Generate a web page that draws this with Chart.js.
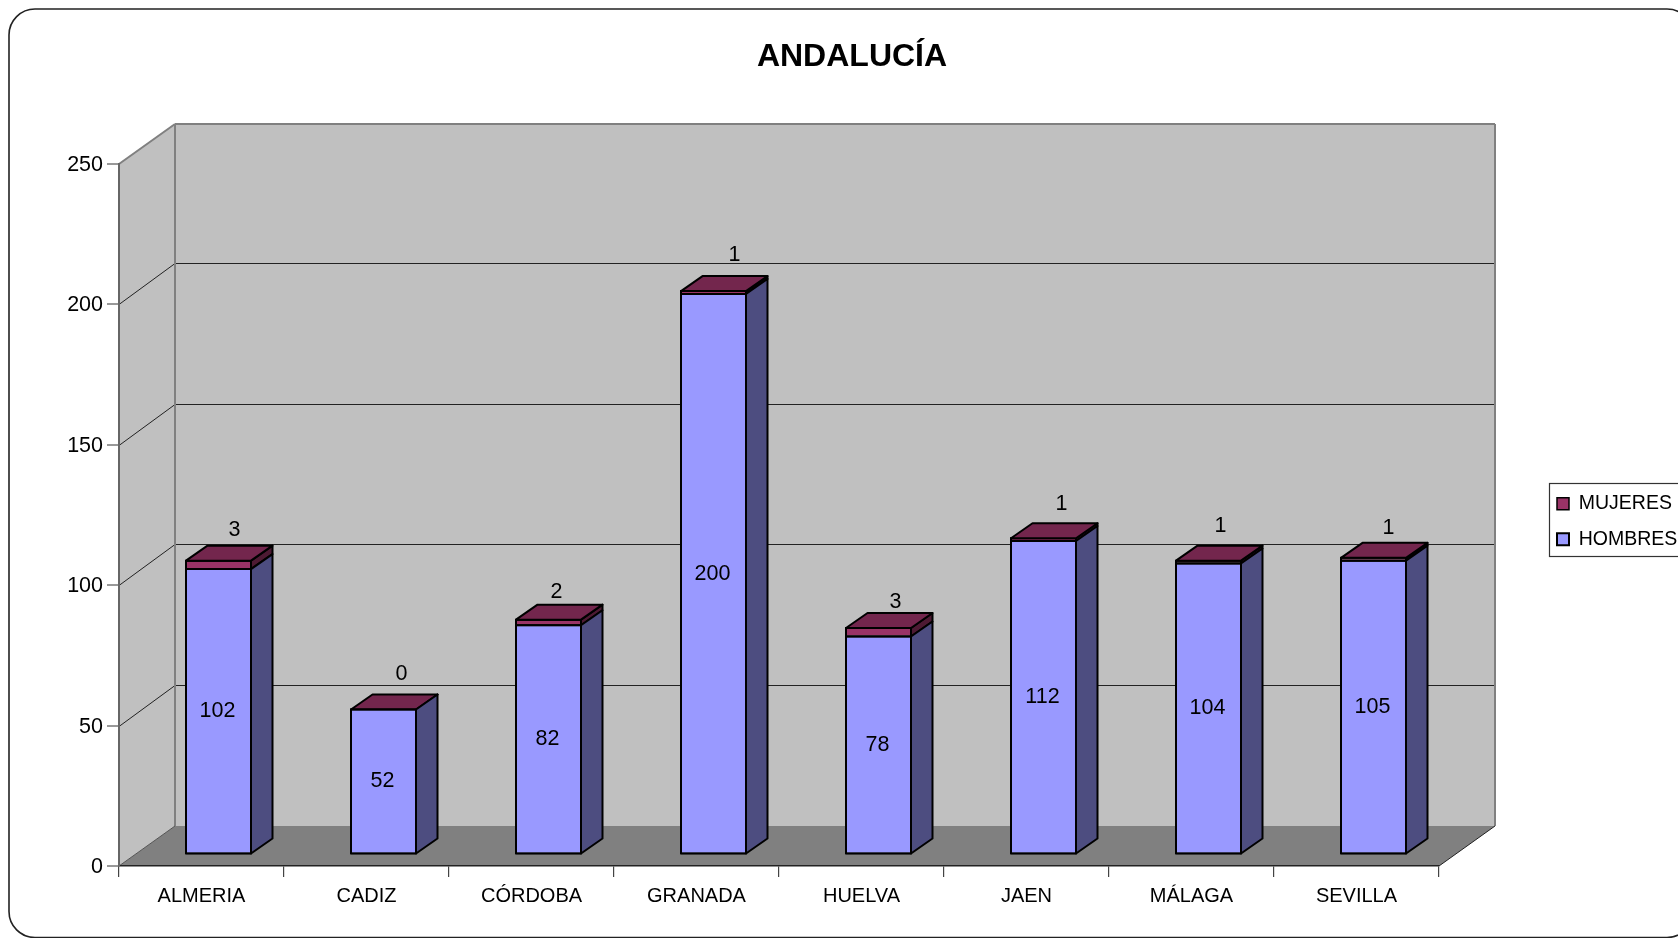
<!DOCTYPE html>
<html><head><meta charset="utf-8">
<style>html,body{margin:0;padding:0;background:#fff;overflow:hidden}canvas{display:block}</style>
<script src="https://cdn.jsdelivr.net/npm/chart.js@4/dist/chart.umd.min.js"></script>
</head><body>
<div style="width:1678px;height:938px"><canvas id="c" width="1678" height="938"></canvas></div>
<script>
const categories = ['ALMERIA','CADIZ','CÓRDOBA','GRANADA','HUELVA','JAEN','MÁLAGA','SEVILLA'];
const hombres = [102,52,82,200,78,112,104,105];
const mujeres = [3,0,2,1,3,1,1,1];
const yTicks = [0,50,100,150,200,250];
const seriesNames = ['HOMBRES','MUJERES'];
const chartTitle = 'ANDALUCÍA';
const mujeresLabelNudgeX = [-2,0,-10,3,-1,0,-6,-3];
const mujeresLabelNudgeY = [2,2,7,0,7,1,1,6];

const FONT = '"Liberation Sans", Arial, sans-serif';
const WALL = {dx:56, dy:-40};
const BAR_FRONT = {dx:17, dy:-11.5};
const BAR_DEPTH = {dx:21.5, dy:-15};
const SIDE = ['#4d4d80','#4d1a33'];
const TOP = '#73264d';
const BW = 2;

function poly(ctx, pts, fill, stroke, lw){
  ctx.beginPath();
  pts.forEach((p,i)=> i ? ctx.lineTo(p[0],p[1]) : ctx.moveTo(p[0],p[1]));
  ctx.closePath();
  if(fill){ctx.fillStyle=fill;ctx.fill();}
  if(stroke){ctx.strokeStyle=stroke;ctx.lineWidth=lw;ctx.lineJoin='round';ctx.stroke();}
}
function seg(ctx,x1,y1,x2,y2,color,lw){
  ctx.beginPath();ctx.moveTo(x1,y1);ctx.lineTo(x2,y2);ctx.strokeStyle=color;ctx.lineWidth=lw;ctx.stroke();
}

const plot3d = {
  id:'plot3d',
  afterLayout(chart){
    const t = chart.titleBlock; t.left = 752; t.right = 952;
    const l = chart.legend; l.left = 1541; l.top = 478; l.right = 1800; l.bottom = 620;
  },
  beforeDraw(chart){
    const ctx = chart.ctx, a = chart.chartArea, y = chart.scales.y;
    const {left,right,top,bottom} = a, dx = WALL.dx, dy = WALL.dy;
    ctx.save();
    ctx.fillStyle='#fff';ctx.fillRect(0,0,chart.width,chart.height);
    ctx.beginPath();ctx.roundRect(9,9,1684,928.5,26);ctx.strokeStyle='#222';ctx.lineWidth=1.6;ctx.stroke();
    poly(ctx,[[left+dx,top+dy],[right+dx,top+dy],[right+dx,bottom+dy],[left+dx,bottom+dy]],'#c0c0c0');
    poly(ctx,[[left,top],[left+dx,top+dy],[left+dx,bottom+dy],[left,bottom]],'#c0c0c0');
    poly(ctx,[[left,bottom],[right,bottom],[right+dx,bottom+dy],[left+dx,bottom+dy]],'#808080');
    y.ticks.forEach(t=>{
      if(t.value===0||t.value===250) return;
      const p = Math.round(y.getPixelForValue(t.value))-0.5;
      seg(ctx,left,p+1,left+dx,p+dy,'#222',1);
      seg(ctx,left+dx,p+dy,right+dx,p+dy,'#222',1);
    });
    seg(ctx,left,top,left+dx,top+dy,'#808080',2);
    seg(ctx,left+dx,top+dy,right+dx,top+dy,'#808080',2);
    seg(ctx,right+dx,top+dy,right+dx,bottom+dy,'#808080',2);
    seg(ctx,left+dx,top+dy,left+dx,bottom+dy,'#808080',2);
    seg(ctx,left,bottom,left+dx,bottom+dy,'#555',1);
    seg(ctx,right,bottom,right+dx,bottom+dy,'#222',1);
    ctx.fillStyle='#fff';ctx.fillRect(1549,483,140,73);
    ctx.strokeStyle='#333';ctx.lineWidth=1.2;ctx.strokeRect(1549.5,483.5,140,73);
    ctx.restore();
  },
  beforeDatasetDraw(chart){
    chart.ctx.save();
    chart.ctx.translate(BAR_FRONT.dx,BAR_FRONT.dy);
  },
  afterDatasetDraw(chart,args){
    const ctx = chart.ctx, i = args.index, {dx,dy} = BAR_DEPTH, h = BW/2;
    args.meta.data.forEach(el=>{
      const {x,y,base,width} = el.getProps(['x','y','base','width'],true);
      const r = x+width/2-h, l = x-width/2+h;
      const b = i===1 ? base+h : base-h;
      poly(ctx,[[r,y+h],[r+dx,y+dy+h],[r+dx,b+dy],[r,b]],SIDE[i],'#000',BW);
      poly(ctx,[[l,y+h],[r,y+h],[r,b],[l,b]],null,'#000',BW);
      if(i===1) poly(ctx,[[l,y+h],[l+dx,y+dy+h],[r+dx,y+dy+h],[r,y+h]],TOP,'#000',BW);
    });
    ctx.restore();
  },
  afterDatasetsDraw(chart){
    const ctx = chart.ctx;
    ctx.save();
    ctx.font = '21.5px '+FONT;ctx.fillStyle='#000';ctx.textAlign='center';ctx.textBaseline='middle';
    chart.getDatasetMeta(0).data.forEach((el,k)=>{
      const {x,y,base} = el.getProps(['x','y','base'],true);
      ctx.fillText(hombres[k], x+BAR_FRONT.dx-1, (y+base)/2+BAR_FRONT.dy);
    });
    chart.getDatasetMeta(1).data.forEach((el,k)=>{
      const {x,y,base} = el.getProps(['x','y','base'],true);
      ctx.fillText(mujeres[k], x+BAR_FRONT.dx+18+mujeresLabelNudgeX[k], (y+base)/2+BAR_FRONT.dy-36+mujeresLabelNudgeY[k]);
    });
    ctx.restore();
  }
};

new Chart(document.getElementById('c'),{
  type:'bar',
  data:{labels:categories,datasets:[
    {label:seriesNames[0],data:hombres,backgroundColor:'#9999ff',borderColor:'#000',borderWidth:BW,borderSkipped:false},
    {label:seriesNames[1],data:mujeres,backgroundColor:'#993366',borderColor:'#000',borderWidth:{top:BW,left:BW,right:BW,bottom:0},borderSkipped:false}
  ]},
  plugins:[plot3d],
  options:{
    responsive:false,animation:false,events:[],
    datasets:{bar:{barPercentage:67/165,categoryPercentage:1}},
    layout:{padding:{left:0,right:239,top:0,bottom:0}},
    scales:{
      x:{stacked:true,offset:true,
        afterFit(s){s.height=72;},
        grid:{drawOnChartArea:false,drawTicks:true,tickLength:11,color:'#444',lineWidth:1.2,offset:true},
        border:{display:true,color:'#222',width:1.5},
        ticks:{color:'#000',font:{family:FONT,size:20},padding:7,autoSkip:false,maxRotation:0}},
      y:{stacked:true,min:0,max:250,
        afterFit(s){s.width=119;},
        afterBuildTicks(s){s.ticks=yTicks.map(v=>({value:v}));},
        grid:{drawOnChartArea:false,drawTicks:true,tickLength:12,color:'#333',lineWidth:0,tickWidth:1,tickColor:'#333'},
        border:{display:true,color:'#666',width:2},
        ticks:{color:'#000',font:{family:FONT,size:21.5},padding:4,labelOffset:1}}
    },
    plugins:{
      tooltip:{enabled:false},
      title:{display:true,text:chartTitle,color:'#000',font:{family:FONT,size:32,weight:'bold',lineHeight:1},padding:{top:41,bottom:91}},
      legend:{display:true,position:'chartArea',align:'start',reverse:true,
        labels:{boxWidth:12,boxHeight:12,padding:16,color:'#000',font:{family:FONT,size:19.5}}}
    }
  }
});
</script>
</body></html>
